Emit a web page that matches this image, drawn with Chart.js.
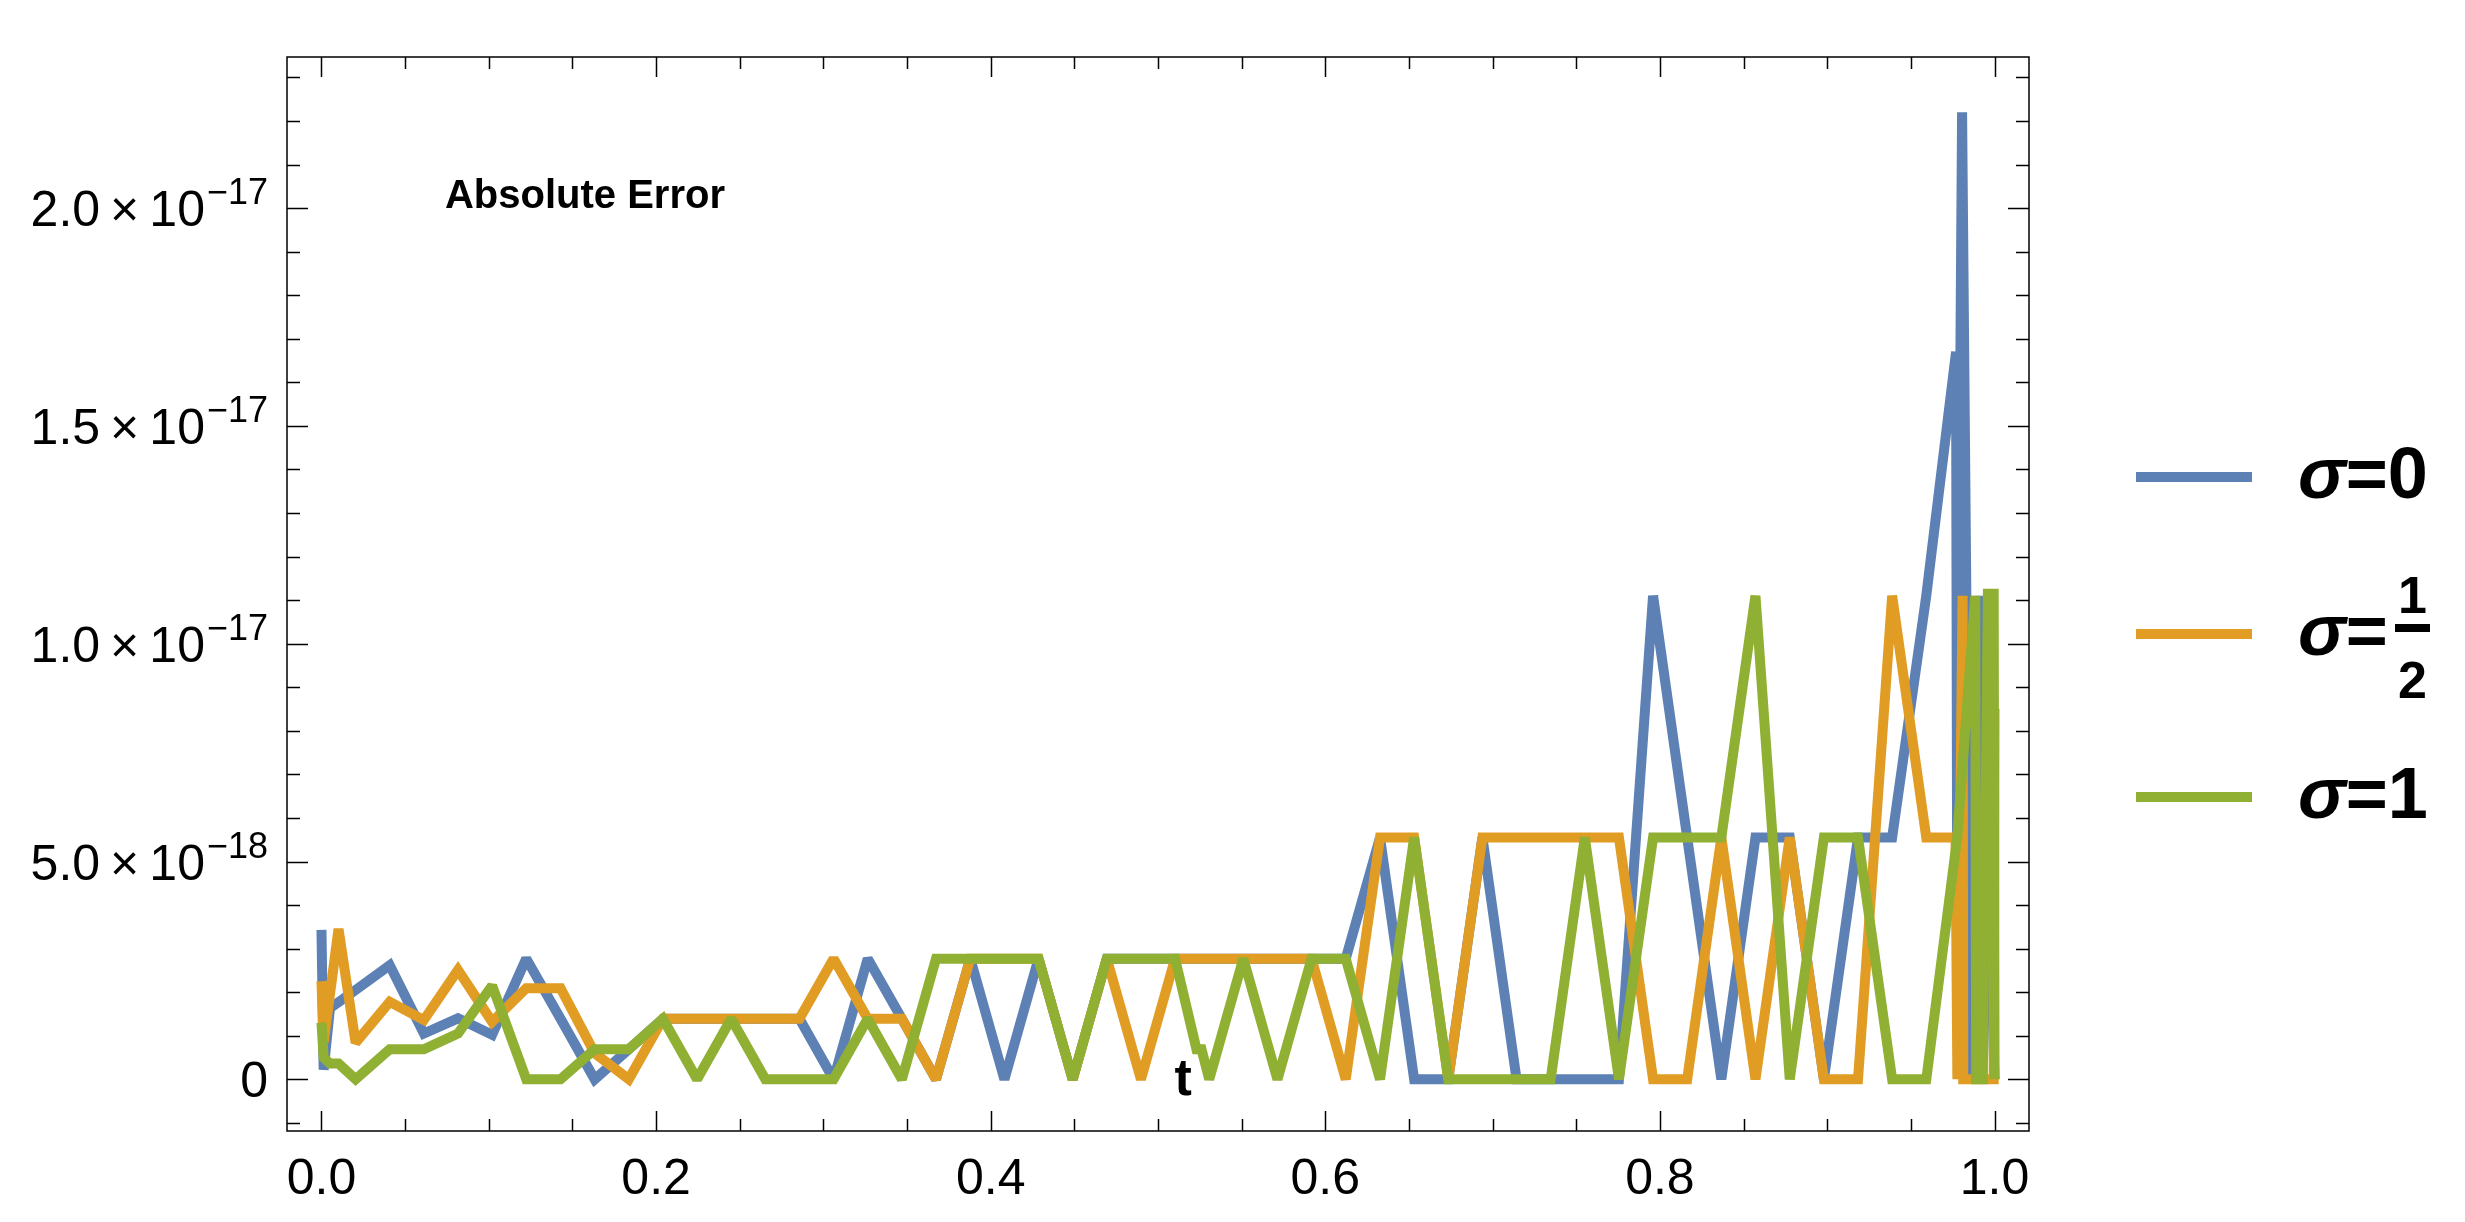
<!DOCTYPE html>
<html>
<head>
<meta charset="utf-8">
<title>Absolute Error</title>
<script src="https://cdn.jsdelivr.net/npm/chart.js@4.4.1/dist/chart.umd.min.js"></script>
<style>
  html, body { margin: 0; padding: 0; background: #fff; overflow: hidden; }
  #box { position: relative; width: 2465px; height: 1222px; }
  #plot { position: absolute; left: 0; top: 0; }
  #legend { position: absolute; left: 0; top: 0; font-family: "Liberation Sans", Arial, sans-serif; font-weight: bold; color: #000; }
  #legend .swatch { position: absolute; width: 116px; height: 10px; }
  #legend .lab { position: absolute; font-size: 72px; line-height: 72px; white-space: nowrap; }
  #legend .lab i { font-style: italic; }
  #legend .num { position: absolute; font-size: 52px; line-height: 52px; width: 35px; text-align: center; }
  #legend .bar { position: absolute; width: 35px; height: 8px; background: #000; }
</style>
</head>
<body>
<div id="box">
  <canvas id="plot" width="2465" height="1222"></canvas>
  <div id="legend"></div>
</div>
<script>
// 数据 (values are in units of 1e-18)
var unit = 1e-18;

var blueT = [0, 0.0013, 0.0051, 0.0204, 0.0408, 0.0612, 0.0816, 0.1020, 0.1224, 0.1429, 0.1633, 0.1837,
  0.2041, 0.2245, 0.2449, 0.2653, 0.2857, 0.3061, 0.3265, 0.3469, 0.3673, 0.3878, 0.4082, 0.4286, 0.4490,
  0.4694, 0.4898, 0.5102, 0.5306, 0.5510, 0.5714, 0.5918, 0.6122, 0.6327, 0.6531, 0.6735, 0.6939, 0.7143,
  0.7347, 0.7551, 0.7755, 0.7959, 0.8163, 0.8367, 0.8571, 0.8776, 0.8980, 0.9184, 0.9388, 0.9592,
  0.9770, 0.9776, 0.9806, 0.9857, 0.9916, 0.9960, 1.0];
var blueErr = [3.43, 0.22, 1.63, 2.05, 2.62, 1.05, 1.40, 1.02, 2.77, 1.39, 0, 0.69,
  1.39, 1.39, 1.39, 1.39, 1.39, 0, 2.77, 1.39, 0, 2.77, 0, 2.77, 0,
  2.77, 2.77, 2.77, 2.77, 2.77, 2.77, 2.77, 2.77, 5.55, 0, 0, 5.55, 0,
  0, 0, 0, 11.1, 5.55, 0, 5.55, 5.55, 0, 5.55, 5.55, 11.1,
  16.7, 5.55, 22.2, 0, 11.1, 5.55, 0];

var orangeT = [0, 0.0013, 0.0102, 0.0204, 0.0408, 0.0612, 0.0816, 0.1020, 0.1224, 0.1429, 0.1633, 0.1837,
  0.2041, 0.2245, 0.2449, 0.2653, 0.2857, 0.3061, 0.3265, 0.3469, 0.3673, 0.3878, 0.4082, 0.4286, 0.4490,
  0.4694, 0.4898, 0.5102, 0.5306, 0.5510, 0.5714, 0.5918, 0.6122, 0.6327, 0.6531, 0.6735, 0.6939, 0.7143,
  0.7347, 0.7551, 0.7755, 0.7959, 0.8163, 0.8367, 0.8571, 0.8776, 0.8980, 0.9184, 0.9388, 0.9592,
  0.9767, 0.9778, 0.9809, 0.9813, 0.9995, 1.0];
var orangeErr = [2.25, 0.85, 3.45, 0.84, 1.78, 1.36, 2.51, 1.32, 2.09, 2.09, 0.6, 0,
  1.39, 1.39, 1.39, 1.39, 1.39, 2.77, 1.39, 1.39, 0, 2.77, 2.77, 2.77, 0,
  2.77, 0, 2.77, 2.77, 2.77, 2.77, 2.77, 0, 5.55, 5.55, 0, 5.55, 5.55,
  5.55, 5.55, 5.55, 0, 0, 5.55, 0, 5.55, 0, 0, 11.1, 5.55,
  5.55, 0, 11.1, 0, 0, 8.5];

var greenT = [0, 0.0013, 0.0051, 0.0102, 0.0204, 0.0408, 0.0612, 0.0816, 0.1020, 0.1224, 0.1429, 0.1633, 0.1837,
  0.2041, 0.2245, 0.2449, 0.2653, 0.2857, 0.3061, 0.3265, 0.3469, 0.3673, 0.3878, 0.4082, 0.4286, 0.4490,
  0.4694, 0.4898, 0.5102, 0.5230, 0.5260, 0.5306, 0.5510, 0.5714, 0.5918, 0.6122, 0.6327, 0.6531, 0.6735,
  0.6939, 0.7143, 0.7347, 0.7551, 0.7755, 0.7959, 0.8163, 0.8367, 0.8571, 0.8776, 0.8980, 0.9184, 0.9388,
  0.9592, 0.9777, 0.9885, 0.9890, 0.9930, 0.9960, 0.9995, 1.0];
var greenErr = [1.30, 0.50, 0.36, 0.36, 0, 0.69, 0.69, 1.05, 2.15, 0, 0, 0.69, 0.69,
  1.39, 0, 1.39, 0, 0, 0, 1.39, 0, 2.77, 2.77, 2.77, 2.77, 0,
  2.77, 2.77, 2.77, 0.69, 0.69, 0, 2.77, 0, 2.77, 2.77, 0, 5.55, 0,
  0, 0, 0, 5.55, 0, 5.55, 5.55, 5.55, 11.1, 0, 5.55, 5.55, 0,
  0, 5.55, 11.1, 0, 0, 11.15, 11.15, 0];

var seriesLabels = ['σ=0', 'σ=1/2', 'σ=1'];
var seriesColors = ['#5e81b5', '#e19c24', '#8fb032'];

// 坐标轴
var xMin = -0.0206, xMax = 1.0206;
var yMin = -1.187e-18, yMax = 23.47e-18;
var xTickVals = [0, 0.2, 0.4, 0.6, 0.8, 1.0];
var xTickLabels = ['0.0', '0.2', '0.4', '0.6', '0.8', '1.0'];
var yTickVals = [0, 5e-18, 1e-17, 1.5e-17, 2e-17];
var yTickMant = ['0', '5.0\u2009×\u200910', '1.0\u2009×\u200910', '1.5\u2009×\u200910', '2.0\u2009×\u200910'];
var yTickExp = ['', '−18', '−17', '−17', '−17'];

var FONT = '"Liberation Sans", Arial, sans-serif';

function points(ts, vs) {
    var out = [];
    for (var i = 0; i < ts.length; i++) out.push({x: ts[i], y: vs[i] * unit});
    return out;
}

// sharp joins get beveled instead of long miter spikes
var joinPlugin = {
    id: 'joins',
    beforeDatasetsDraw: function(chart) { chart.ctx.save(); chart.ctx.miterLimit = 2; },
    afterDatasetsDraw: function(chart) { chart.ctx.restore(); }
};

// frame with inward ticks, y labels with exponents, plot notes
var framePlugin = {
    id: 'frame',
    afterDraw: function(chart) {
        var ctx = chart.ctx, a = chart.chartArea;
        var xs = chart.scales.x, ys = chart.scales.y;
        ctx.save();
        ctx.strokeStyle = '#000';
        ctx.lineWidth = 1.5;
        ctx.strokeRect(a.left, a.top, a.right - a.left, a.bottom - a.top);
        ctx.beginPath();
        for (var i = 0; i <= 20; i++) { // every 0.05
            var px = Math.round(xs.getPixelForValue(i * 0.05)) + 0.5;
            var len = i % 4 === 0 ? 20 : 12;
            ctx.moveTo(px, a.bottom); ctx.lineTo(px, a.bottom - len);
            ctx.moveTo(px, a.top); ctx.lineTo(px, a.top + len);
        }
        for (var j = -1; j <= 23; j++) { // every 1e-18
            var py = Math.round(ys.getPixelForValue(j * unit)) + 0.5;
            var l2 = j % 5 === 0 ? 21 : 13;
            ctx.moveTo(a.left, py); ctx.lineTo(a.left + l2, py);
            ctx.moveTo(a.right, py); ctx.lineTo(a.right - l2, py);
        }
        ctx.stroke();

        // y tick labels: mantissa × 10^exp
        ctx.fillStyle = '#000';
        ctx.textBaseline = 'alphabetic';
        var right = a.left - 19;
        for (var k = 0; k < yTickVals.length; k++) {
            var y = ys.getPixelForValue(yTickVals[k]);
            var ew = 0;
            if (yTickExp[k]) {
                ctx.font = '36px ' + FONT;
                ew = ctx.measureText(yTickExp[k]).width;
                ctx.textAlign = 'left';
                ctx.fillText(yTickExp[k], right - ew, y + 18 - 22);
            }
            ctx.font = '50px ' + FONT;
            ctx.textAlign = 'right';
            ctx.fillText(yTickMant[k], right - ew - (ew ? 2 : 0), y + 18);
        }

        // 标注
        ctx.font = 'bold 40px ' + FONT;
        ctx.textAlign = 'left';
        ctx.fillText('Absolute Error', xs.getPixelForValue(0.0738), ys.getPixelForValue(20.0 * unit));
        ctx.font = 'bold 52px ' + FONT;
        ctx.textAlign = 'center';
        ctx.fillText('t', xs.getPixelForValue(0.5151), ys.getPixelForValue(-0.36 * unit));
        ctx.restore();
    }
};

var chart = new Chart(document.getElementById('plot'), {
    type: 'line',
    data: {
        datasets: [
            {label: seriesLabels[0], data: points(blueT, blueErr), borderColor: seriesColors[0], order: 3},
            {label: seriesLabels[1], data: points(orangeT, orangeErr), borderColor: seriesColors[1], order: 2},
            {label: seriesLabels[2], data: points(greenT, greenErr), borderColor: seriesColors[2], order: 1}
        ]
    },
    options: {
        responsive: false,
        animation: false,
        devicePixelRatio: 1,
        layout: {padding: {left: 287, top: 57, right: 436, bottom: 0}},
        plugins: {legend: {display: false}, tooltip: {enabled: false}},
        elements: {
            point: {radius: 0},
            line: {tension: 0, borderWidth: 10, borderJoinStyle: 'miter', borderCapStyle: 'butt', fill: false}
        },
        scales: {
            x: {
                type: 'linear', min: xMin, max: xMax,
                grid: {display: false}, border: {display: false},
                ticks: {
                    font: {family: FONT, size: 50}, color: '#000', padding: 11,
                    maxRotation: 0, minRotation: 0, autoSkip: false,
                    callback: function(v, i) { return xTickLabels[i]; }
                },
                afterBuildTicks: function(s) { s.ticks = xTickVals.map(function(v) { return {value: v}; }); },
                afterFit: function(s) { s.height = 91; }
            },
            y: {
                type: 'linear', min: yMin, max: yMax,
                grid: {display: false}, border: {display: false},
                ticks: {display: false},
                afterFit: function(s) { s.width = 0; }
            }
        }
    },
    plugins: [joinPlugin, framePlugin]
});

// 图例 (legend as html so the fraction can be stacked)
var legendRows = [477, 634, 797];
var legend = document.getElementById('legend');
function add(cls, left, top, html) {
    var d = document.createElement('div');
    d.className = cls;
    d.style.left = left + 'px';
    d.style.top = top + 'px';
    if (html) d.innerHTML = html;
    legend.appendChild(d);
    return d;
}
chart.data.datasets.forEach(function(ds, i) {
    var c = legendRows[i];
    add('swatch', 2136, c - 5).style.background = ds.borderColor;
    var parts = ds.label.split('=');
    var val = parts[1];
    if (val.indexOf('/') >= 0) {
        var f = val.split('/');
        add('lab', 2298, c + 21 - 61, '<i>' + parts[0] + '</i>=');
        add('num', 2395, c - 21 - 44, f[0]);
        add('bar', 2395, c - 10);
        add('num', 2395, c + 64 - 44, f[1]);
    } else {
        add('lab', 2298, c + 21 - 61, '<i>' + parts[0] + '</i>=' + val);
    }
});
</script>
</body>
</html>
